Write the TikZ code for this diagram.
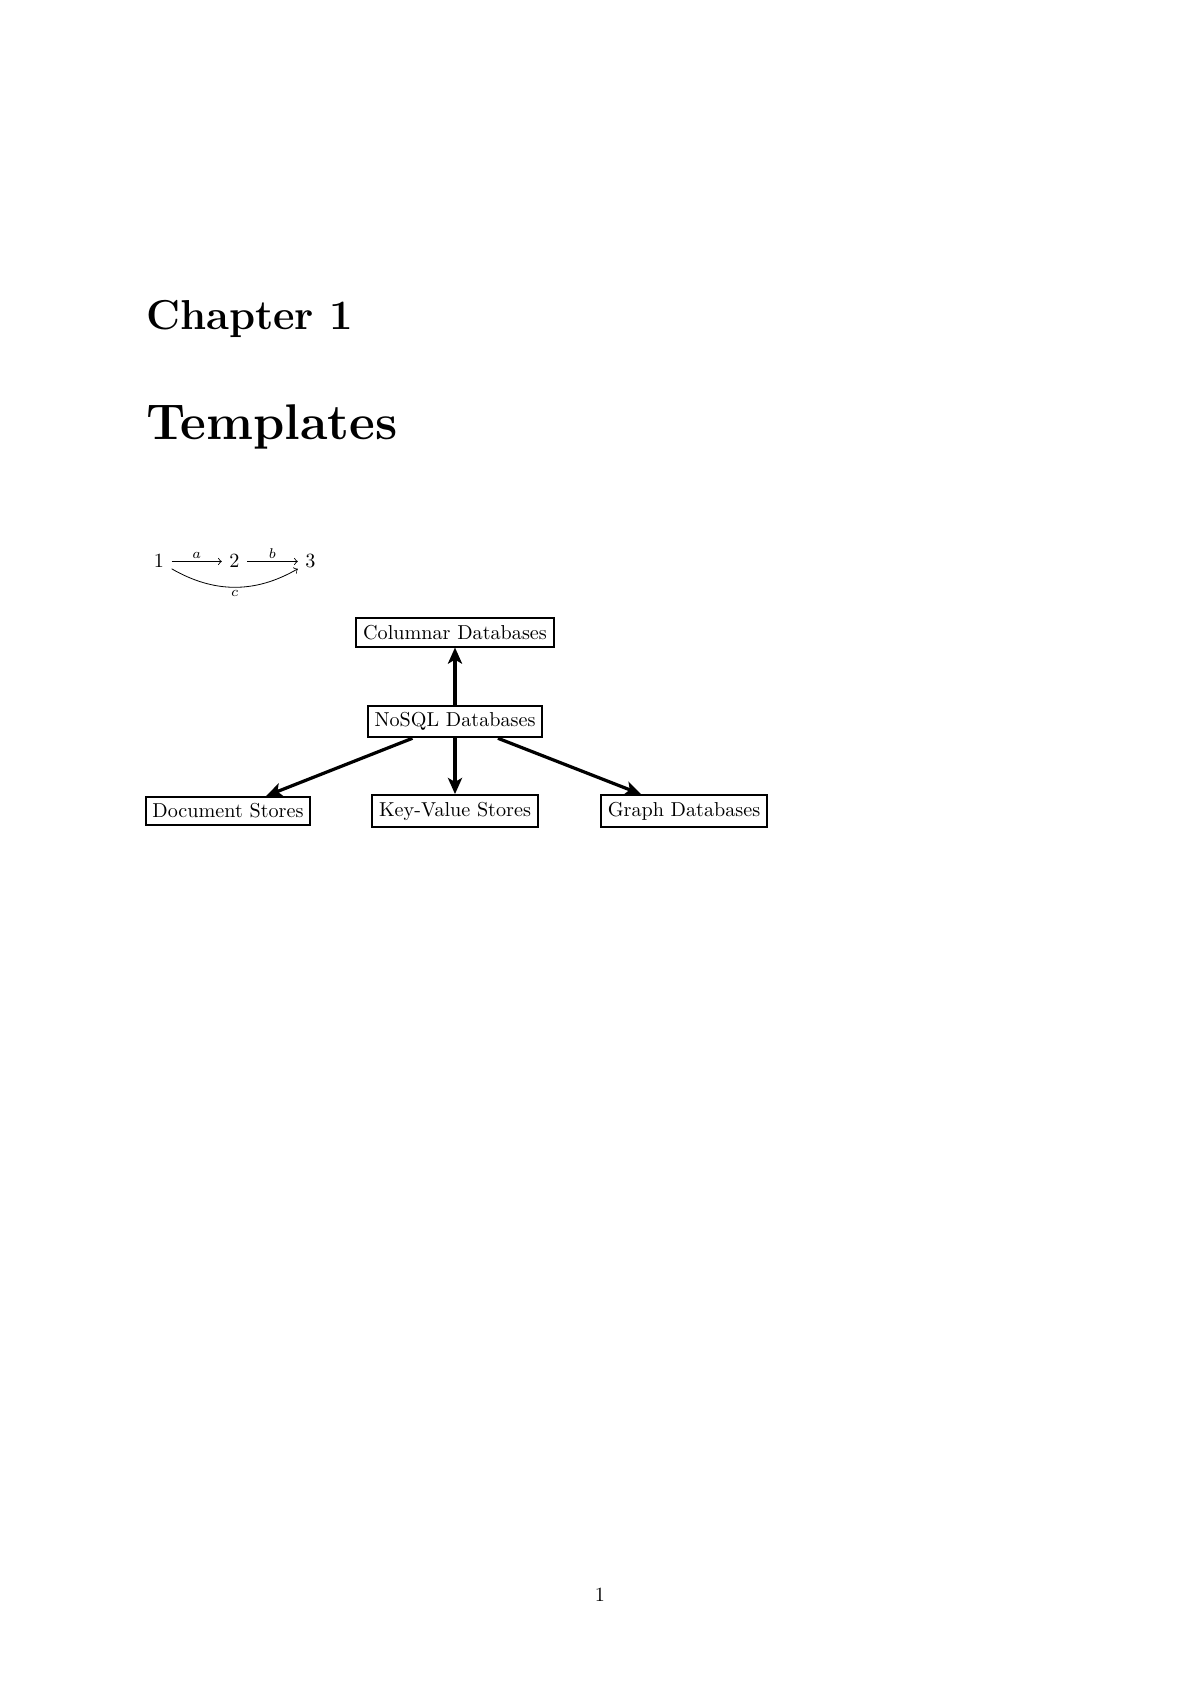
\documentclass[tikz,border=0pt]{standalone}
\usetikzlibrary{arrows.meta}
\begin{document}
\begin{tikzpicture}[x=0.49606pt,y=0.49606pt,
  box/.style={draw,line width=1pt,inner sep=.3333em,font=\fontsize{10}{12}\selectfont},
  bigarr/.style={-{Stealth[length=8pt,width=7pt,inset=2pt]},line width=1.6pt},
  num/.style={anchor=base,inner xsep=3.8pt,inner ysep=3pt,outer sep=0pt},
  lab/.style={inner sep=1.5pt,font=\scriptsize},
  cdarr/.style={-to,line width=0.4pt}]
\fill[white] (0,0) rectangle (1200,1696);
\useasboundingbox (0,0) rectangle (1200,1696);
% headings
\node[anchor=base west,inner sep=0pt,font=\fontsize{20.74}{25}\selectfont\bfseries] (chap) at (145.7,1366.5) {Chapter 1};
\node[anchor=base west,inner sep=0pt,font=\fontsize{24.88}{30}\selectfont\bfseries] (title) at (145.7,1256) {Templates};
% small commutative diagram
\node[num] (n1) at (159,1128) {$1$};
\node[num] (n2) at (234.5,1128) {$2$};
\node[num] (n3) at (310.5,1128) {$3$};
\draw[cdarr] (n1) -- node[lab,above] {$a$} (n2);
\draw[cdarr] (n2) -- node[lab,above] {$b$} (n3);
\draw[cdarr] (n1) to[bend right=30] node[lab,below] {$c$} (n3);
% database diagram
\node[box] (nosql) at (455,974.5) {NoSQL Databases};
\node[box] (col) at (455,1063.5) {Columnar Databases};
\node[box] (kv) at (455,885) {Key-Value Stores};
\node[box] (doc) at (228,885) {Document Stores};
\node[box] (graph) at (684,885) {Graph Databases};
\draw[bigarr] (nosql) -- (col);
\draw[bigarr] (nosql) -- (doc);
\draw[bigarr] (nosql) -- (kv);
\draw[bigarr] (nosql) -- (graph);
% page number
\node[anchor=base,inner sep=0pt,font=\fontsize{10}{12}\selectfont] (page) at (600,94) {1};
\end{tikzpicture}
\end{document}
